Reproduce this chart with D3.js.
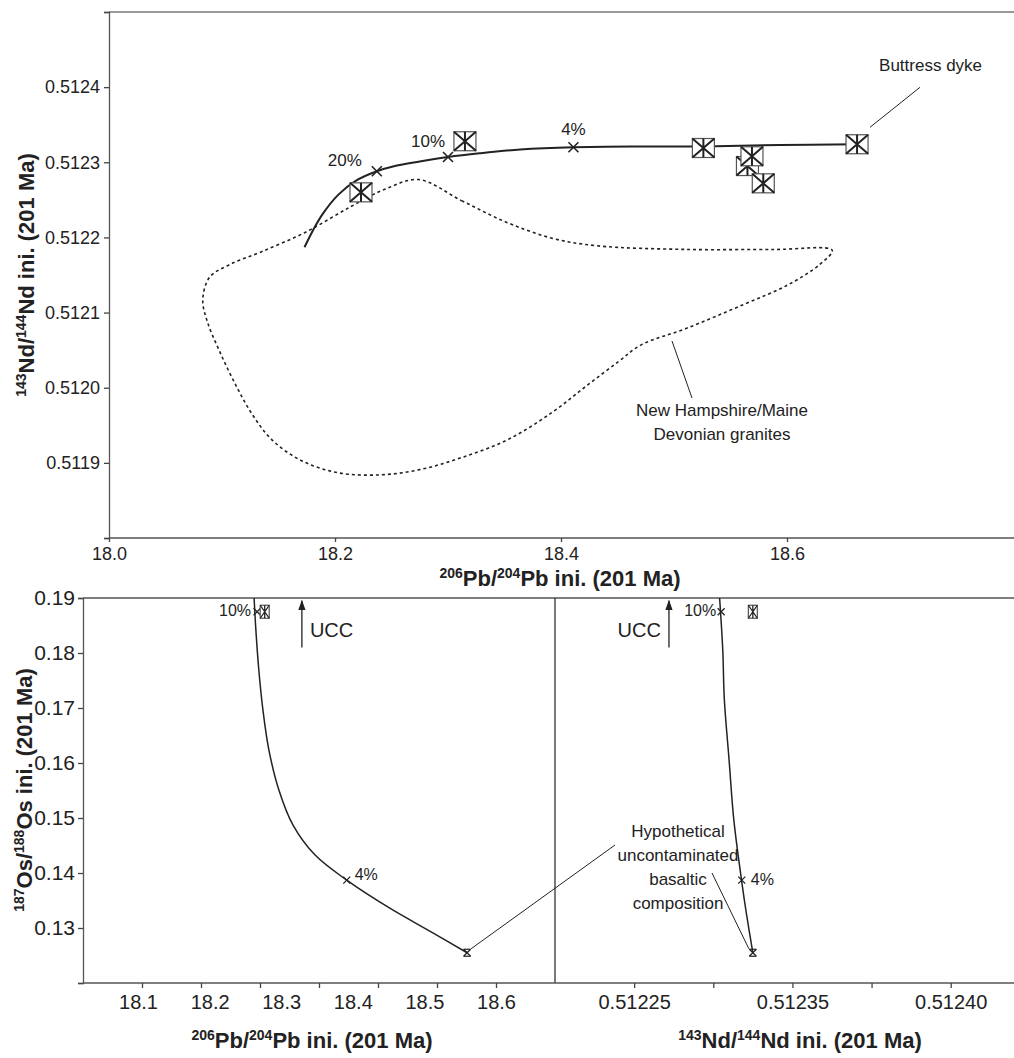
<!DOCTYPE html>
<html><head><meta charset="utf-8">
<script src="https://cdn.jsdelivr.net/npm/d3@7"></script>
<style>
html,body{margin:0;padding:0;background:#fff;}
svg{display:block;font-family:"Liberation Sans",Arial,sans-serif;}
</style></head>
<body>
<svg id="chart" width="1014" height="1058"></svg>
<script>
// ---------------- DATA ----------------
// Top panel ticks
const topPbTicks = [18.0, 18.2, 18.4, 18.6];
const topNdTicks = [0.5118, 0.5119, 0.5120, 0.5121, 0.5122, 0.5123, 0.5124, 0.5125];
const topNdLabelled = [0.5119, 0.5120, 0.5121, 0.5122, 0.5123, 0.5124];
// Buttress dyke samples (206Pb/204Pb, 143Nd/144Nd)
const samplePb = [18.223, 18.315, 18.526, 18.565, 18.569, 18.579, 18.662];
const sampleNd = [0.512260, 0.512328, 0.512319, 0.512295, 0.512308, 0.512272, 0.512324];
// Mixing curve (top panel)
const mixPb = [18.661, 18.594, 18.526, 18.470, 18.411, 18.364, 18.328, 18.300, 18.275, 18.253, 18.237, 18.218, 18.203, 18.189, 18.180, 18.173];
const mixNd = [0.512324, 0.512323, 0.512321, 0.512321, 0.512320, 0.512317, 0.512312, 0.512307, 0.512301, 0.512295, 0.512288, 0.512275, 0.512257, 0.512231, 0.512208, 0.512187];
const mixMarkPb = [18.237, 18.300, 18.411];
const mixMarkNd = [0.512288, 0.512307, 0.512320];
const mixMarkLabels = ["20%", "10%", "4%"];
// New Hampshire/Maine Devonian granites field (closed outline)
const granitePb = [18.274, 18.312, 18.352, 18.392, 18.431, 18.511, 18.589, 18.640, 18.629, 18.601, 18.562, 18.511, 18.471, 18.451, 18.423, 18.392, 18.353, 18.312, 18.275, 18.240, 18.202, 18.169, 18.144, 18.127, 18.112, 18.098, 18.087, 18.083, 18.089, 18.107, 18.135, 18.174, 18.214, 18.244];
const graniteNd = [0.512277, 0.512249, 0.512220, 0.512199, 0.512189, 0.512184, 0.512184, 0.512183, 0.512164, 0.512137, 0.512111, 0.512079, 0.512057, 0.512035, 0.512003, 0.511967, 0.511931, 0.511907, 0.511891, 0.511884, 0.511887, 0.511904, 0.511931, 0.511964, 0.512004, 0.512048, 0.512088, 0.512117, 0.512147, 0.512164, 0.512181, 0.512207, 0.512241, 0.512264];

// Bottom panels
const osTicks = [0.12, 0.13, 0.14, 0.15, 0.16, 0.17, 0.18, 0.19];
const osLabelled = [0.13, 0.14, 0.15, 0.16, 0.17, 0.18, 0.19];
const pbTickValues = [18.1, 18.2, 18.3, 18.4, 18.5, 18.6, 18.7];
const pbTickLabels = ["18.1", "18.2", "18.3", "18.4", "18.5", "18.6"];
const ndTickValues = [0.51225, 0.51230, 0.51235, 0.51240, 0.51245];
const ndLabelValues = [0.51225, 0.51235, 0.51245];
const ndTickLabels = ["0.51225", "0.51235", "0.51240"];
// Pb–Os mixing curve
const osPbCurvePb = [18.290, 18.293, 18.298, 18.305, 18.315, 18.332, 18.356, 18.393, 18.447, 18.520, 18.590, 18.651];
const osPbCurveOs = [0.1900, 0.1842, 0.1769, 0.1696, 0.1624, 0.1551, 0.1487, 0.1433, 0.1387, 0.1336, 0.1293, 0.1255];
// Nd–Os mixing curve
const osNdCurveNd = [0.512304, 0.512306, 0.512307, 0.512310, 0.512313, 0.512318, 0.512321, 0.512325];
const osNdCurveOs = [0.1900, 0.1805, 0.1715, 0.1605, 0.1496, 0.1384, 0.1325, 0.1255];
// marks on bottom curves: 10%, 4%, basalt
const osMarkPb = [18.295, 18.447];
const osMarkNd = [0.512305, 0.512318];
const osMarkOs = [0.1875, 0.1387];
const osMarkLabels = ["10%", "4%"];
const basaltPb = 18.651, basaltNd = 0.512325, basaltOs = 0.1255;
const sampleOsPb = 18.308, sampleOsNd = 0.512325, sampleOs = 0.1875;
const uccPb = 18.371, uccNd = 0.512272;

// ---------------- DRAW ----------------
const svg = d3.select("#chart");
const ink = "#222";

// Top panel scales
const xTop = d3.scaleLinear().domain([18.0, 18.8]).range([109, 1013]);
const yTop = d3.scaleLinear().domain([0.5118, 0.5125]).range([538, 12]);
// Bottom scales
const xPb = d3.scaleLinear().domain([18.0, 18.8]).range([83, 555]);
const xPbLabel = d3.scaleLinear().domain([18.1, 18.6]).range([138, 496]);
const xNd = d3.scaleLinear().domain([0.5122, 0.51249]).range([555, 1014]);
const yOs = d3.scaleLinear().domain([0.12, 0.19]).range([983, 598]);

function styleAxis(g, fs) {
  g.select(".domain").attr("stroke", "#555").attr("stroke-width", 1.3);
  g.selectAll(".tick line").attr("stroke", "#444").attr("stroke-width", 1.3);
  g.selectAll(".tick text").attr("fill", ink).style("font-size", fs + "px").style("font-family", "Liberation Sans, Arial, sans-serif");
}

// ---- Top panel frame/axes
svg.append("line").attr("x1", 109).attr("x2", 1014).attr("y1", 12).attr("y2", 12).attr("stroke", "#777").attr("stroke-width", 1.3);
const fmt4 = d3.format(".4f");
const gTY = svg.append("g").attr("transform", "translate(109,0)")
  .call(d3.axisLeft(yTop).tickValues(topNdTicks).tickFormat(d => topNdLabelled.some(v => Math.abs(v - d) < 1e-9) ? fmt4(d) : "").tickSize(5).tickPadding(4));
styleAxis(gTY, 18);
const gTX = svg.append("g").attr("transform", "translate(0,538)")
  .call(d3.axisBottom(xTop).tickValues(topPbTicks).tickFormat(d3.format(".1f")).tickSize(4).tickPadding(5));
styleAxis(gTX, 18);
gTX.select(".domain").attr("d", "M109,0H1014");

// Titles with superscripts
function isoTitle(sel, parts, fs) {
  const up = Math.round(fs * 0.38);
  parts.forEach(([t, sup], i) => {
    const prev = i > 0 && parts[i - 1][1];
    const ts = sel.append("tspan").text(t);
    if (sup) { ts.attr("font-size", Math.round(fs * 0.62)); if (!prev) ts.attr("dy", -up); }
    else if (prev) ts.attr("dy", up);
  });
}
const TF = 22;
const tX = svg.append("text").attr("x", 560).attr("y", 586).attr("text-anchor", "middle")
  .attr("font-weight", "bold").attr("font-size", TF).attr("fill", ink);
isoTitle(tX, [["206", true], ["Pb/", false], ["204", true], ["Pb ini. (201 Ma)", false]], TF);
const tY = svg.append("text").attr("transform", "translate(34,275) rotate(-90)").attr("text-anchor", "middle")
  .attr("font-weight", "bold").attr("font-size", TF).attr("fill", ink);
isoTitle(tY, [["143", true], ["Nd/", false], ["144", true], ["Nd ini. (201 Ma)", false]], TF);

// Granite field
svg.append("path")
  .datum(granitePb.map((p, i) => [xTop(p), yTop(graniteNd[i])]))
  .attr("d", d3.line().curve(d3.curveCatmullRomClosed.alpha(0.5)))
  .attr("fill", "none").attr("stroke", ink).attr("stroke-width", 1.6).attr("stroke-dasharray", "3,3");

// Mixing curve
svg.append("path")
  .datum(mixPb.map((p, i) => [xTop(p), yTop(mixNd[i])]))
  .attr("d", d3.line().curve(d3.curveCatmullRom.alpha(0.5)))
  .attr("fill", "none").attr("stroke", ink).attr("stroke-width", 2);

function cross(g, x, y, r, w) {
  g.append("path").attr("d", `M${x - r},${y - r}L${x + r},${y + r}M${x - r},${y + r}L${x + r},${y - r}`)
    .attr("stroke", ink).attr("stroke-width", w).attr("fill", "none");
}
function boxMark(g, x, y, w, h, sw) {
  g.append("rect").attr("x", x - w / 2).attr("y", y - h / 2).attr("width", w).attr("height", h)
    .attr("fill", "#fff").attr("stroke", "#555").attr("stroke-width", 1.2);
  g.append("path").attr("d", `M${x - w / 2},${y - h / 2}L${x + w / 2},${y + h / 2}M${x - w / 2},${y + h / 2}L${x + w / 2},${y - h / 2}M${x},${y - h / 2}V${y + h / 2}`)
    .attr("stroke", ink).attr("stroke-width", sw).attr("fill", "none");
}
const gMarks = svg.append("g");
mixMarkPb.forEach((p, i) => cross(gMarks, xTop(p), yTop(mixMarkNd[i]), 5, 1.6));
const mixLabelOffsets = [[-32, -10], [-20, -15], [0, -17]];
mixMarkLabels.forEach((t, i) => {
  svg.append("text").attr("x", xTop(mixMarkPb[i]) + mixLabelOffsets[i][0]).attr("y", yTop(mixMarkNd[i]) + mixLabelOffsets[i][1])
    .attr("text-anchor", "middle").attr("dominant-baseline", "middle").attr("font-size", 17).attr("fill", ink).text(t);
});
// sample squares (hidden one drawn first)
const order = [3, 0, 1, 2, 4, 5, 6];
order.forEach(i => boxMark(gMarks, xTop(samplePb[i]), yTop(sampleNd[i]), 22, 19, 2));

// Buttress dyke label
const bx = xTop(samplePb[6]), by = yTop(sampleNd[6]);
svg.append("line").attr("x1", bx + 13).attr("y1", by - 17).attr("x2", bx + 63).attr("y2", by - 57).attr("stroke", ink).attr("stroke-width", 1);
svg.append("text").attr("x", bx + 22).attr("y", by - 78).attr("dominant-baseline", "middle").attr("font-size", 17).attr("fill", ink).text("Buttress dyke");
// Granite label
svg.append("line").attr("x1", 672).attr("y1", 341).attr("x2", 692).attr("y2", 398).attr("stroke", ink).attr("stroke-width", 1);
svg.append("text").attr("x", 722).attr("y", 412).attr("text-anchor", "middle").attr("dominant-baseline", "middle").attr("font-size", 17).attr("fill", ink).text("New Hampshire/Maine");
svg.append("text").attr("x", 722).attr("y", 436).attr("text-anchor", "middle").attr("dominant-baseline", "middle").attr("font-size", 17).attr("fill", ink).text("Devonian granites");

// ---- Bottom panels
svg.append("line").attr("x1", 83).attr("x2", 1014).attr("y1", 598).attr("y2", 598).attr("stroke", "#555").attr("stroke-width", 1.4);
svg.append("line").attr("x1", 555).attr("x2", 555).attr("y1", 598).attr("y2", 983).attr("stroke", ink).attr("stroke-width", 1.2);
const fmt2 = d3.format(".2f");
const gOY = svg.append("g").attr("transform", "translate(83,0)")
  .call(d3.axisLeft(yOs).tickValues(osTicks).tickFormat(d => osLabelled.some(v => Math.abs(v - d) < 1e-9) ? fmt2(d) : "").tickSize(5).tickPadding(3));
styleAxis(gOY, 21);
const gPX = svg.append("g").attr("transform", "translate(0,983)")
  .call(d3.axisBottom(xPb).tickValues(pbTickValues).tickFormat("").tickSize(5));
styleAxis(gPX, 20);
gPX.select(".domain").attr("d", "M83,0H555");
const gPL = svg.append("g").attr("transform", "translate(0,983)")
  .call(d3.axisBottom(xPbLabel).tickValues(pbTickLabels.map(Number)).tickFormat((d, i) => pbTickLabels[i]).tickSize(0).tickPadding(12));
gPL.select(".domain").remove();
styleAxis(gPL, 20);
const gNX = svg.append("g").attr("transform", "translate(0,983)")
  .call(d3.axisBottom(xNd).tickValues(ndTickValues).tickFormat("").tickSize(5));
styleAxis(gNX, 20);
gNX.select(".domain").attr("d", "M555,0H1014");
const gNL = svg.append("g").attr("transform", "translate(0,983)")
  .call(d3.axisBottom(xNd).tickValues(ndLabelValues).tickFormat((d, i) => ndTickLabels[i]).tickSize(0).tickPadding(12));
gNL.select(".domain").remove();
styleAxis(gNL, 20);

// bottom titles
const tB1 = svg.append("text").attr("x", 312).attr("y", 1048).attr("text-anchor", "middle").attr("font-weight", "bold").attr("font-size", TF).attr("fill", ink);
isoTitle(tB1, [["206", true], ["Pb/", false], ["204", true], ["Pb ini. (201 Ma)", false]], TF);
const tB2 = svg.append("text").attr("x", 800).attr("y", 1048).attr("text-anchor", "middle").attr("font-weight", "bold").attr("font-size", TF).attr("fill", ink);
isoTitle(tB2, [["143", true], ["Nd/", false], ["144", true], ["Nd ini. (201 Ma)", false]], TF);
const tBY = svg.append("text").attr("transform", "translate(32,790) rotate(-90)").attr("text-anchor", "middle").attr("font-weight", "bold").attr("font-size", TF).attr("fill", ink);
isoTitle(tBY, [["187", true], ["Os/", false], ["188", true], ["Os ini. (201 Ma)", false]], TF);

// curves
svg.append("path").datum(osPbCurvePb.map((p, i) => [xPb(p), yOs(osPbCurveOs[i])]))
  .attr("d", d3.line().curve(d3.curveCatmullRom.alpha(0.5))).attr("fill", "none").attr("stroke", ink).attr("stroke-width", 1.5);
svg.append("path").datum(osNdCurveNd.map((p, i) => [xNd(p), yOs(osNdCurveOs[i])]))
  .attr("d", d3.line().curve(d3.curveCatmullRom.alpha(0.5))).attr("fill", "none").attr("stroke", ink).attr("stroke-width", 1.5);

const gB = svg.append("g");
osMarkOs.forEach((o, i) => {
  cross(gB, xPb(osMarkPb[i]), yOs(o), 3.5, 1.3);
  cross(gB, xNd(osMarkNd[i]), yOs(o), 3.5, 1.3);
});
// labels for 10% / 4%
svg.append("text").attr("x", xPb(osMarkPb[0]) - 6).attr("y", yOs(osMarkOs[0])).attr("text-anchor", "end").attr("dominant-baseline", "middle").attr("font-size", 16).attr("fill", ink).text(osMarkLabels[0]);
svg.append("text").attr("x", xNd(osMarkNd[0]) - 5).attr("y", yOs(osMarkOs[0])).attr("text-anchor", "end").attr("dominant-baseline", "middle").attr("font-size", 16).attr("fill", ink).text(osMarkLabels[0]);
svg.append("text").attr("x", xPb(osMarkPb[1]) + 8).attr("y", yOs(osMarkOs[1]) - 4).attr("dominant-baseline", "middle").attr("font-size", 16).attr("fill", ink).text(osMarkLabels[1]);
svg.append("text").attr("x", xNd(osMarkNd[1]) + 9).attr("y", yOs(osMarkOs[1]) + 1).attr("dominant-baseline", "middle").attr("font-size", 16).attr("fill", ink).text(osMarkLabels[1]);
// basalt markers
[[xPb(basaltPb), yOs(basaltOs)], [xNd(basaltNd), yOs(basaltOs)]].forEach(([x, y]) => {
  cross(gB, x, y, 3.5, 1.3);
  gB.append("line").attr("x1", x - 3.5).attr("x2", x + 3.5).attr("y1", y - 3.5).attr("y2", y - 3.5).attr("stroke", ink).attr("stroke-width", 1.2);
  gB.append("line").attr("x1", x - 3.5).attr("x2", x + 3.5).attr("y1", y + 3.5).attr("y2", y + 3.5).attr("stroke", ink).attr("stroke-width", 1.2);
});
// sample squares
boxMark(gB, xPb(sampleOsPb), yOs(sampleOs), 9, 13, 1.3);
boxMark(gB, xNd(sampleOsNd), yOs(sampleOs), 9, 13, 1.3);

// UCC arrows
svg.append("defs").append("marker").attr("id", "arr").attr("viewBox", "0 0 10 10").attr("refX", 9).attr("refY", 5)
  .attr("markerWidth", 8).attr("markerHeight", 8).attr("orient", "auto-start-reverse")
  .append("path").attr("d", "M0,1.5L10,5L0,8.5Z").attr("fill", ink);
function ucc(x, textLeft) {
  svg.append("line").attr("x1", x).attr("x2", x).attr("y1", yOs(0.1810)).attr("y2", yOs(0.1895)).attr("stroke", ink).attr("stroke-width", 1.3).attr("marker-end", "url(#arr)");
  svg.append("text").attr("x", textLeft ? x - 8 : x + 8).attr("y", yOs(0.1838)).attr("text-anchor", textLeft ? "end" : "start")
    .attr("dominant-baseline", "middle").attr("font-size", 20).attr("fill", ink).text("UCC");
}
ucc(xPb(uccPb), false);
ucc(xNd(uccNd), true);

// Hypothetical label
const hypLines = ["Hypothetical", "uncontaminated", "basaltic", "composition"];
hypLines.forEach((t, i) => svg.append("text").attr("x", 678).attr("y", 833 + i * 24).attr("text-anchor", "middle").attr("dominant-baseline", "middle").attr("font-size", 17).attr("fill", ink).text(t));
svg.append("line").attr("x1", xPb(basaltPb) + 4).attr("y1", yOs(basaltOs) - 4).attr("x2", 615).attr("y2", 845).attr("stroke", ink).attr("stroke-width", 1);
svg.append("line").attr("x1", xNd(basaltNd) - 4).attr("y1", yOs(basaltOs) - 4).attr("x2", 712).attr("y2", 873).attr("stroke", ink).attr("stroke-width", 1);
</script>
</body></html>
